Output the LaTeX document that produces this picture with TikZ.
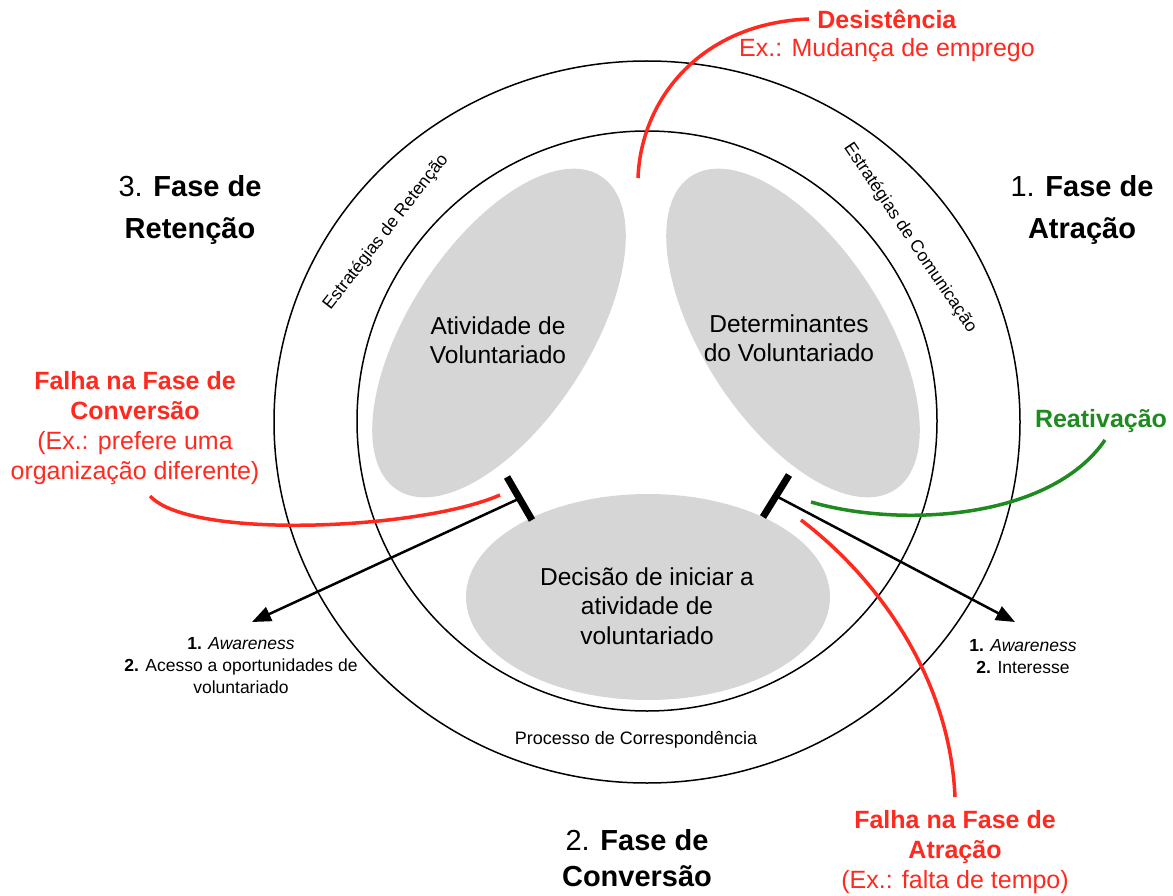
\documentclass[tikz,border=0pt]{standalone}
\usepackage{fontspec}
\setmainfont{Liberation Sans}
\usetikzlibrary{shapes.geometric,arrows.meta,calc}
\definecolor{blobgray}{HTML}{D6D6D6}
\definecolor{alertred}{HTML}{FF2A1F}
\definecolor{reactgreen}{HTML}{1F8A1F}
\begin{document}
\begin{tikzpicture}[x=1pt,y=-1pt,
  ring/.style={draw=black, line width=1.5pt},
  blob/.style={ellipse, fill=blobgray, draw=none, inner sep=0pt},
  blobtext/.style={align=center, inner sep=1pt, font=\fontsize{24.5}{29.5}\selectfont},
  phase/.style={align=center, inner sep=1pt, font=\fontsize{29}{42}\selectfont},
  small/.style={align=center, inner sep=1pt, font=\fontsize{17.5}{22}\selectfont},
  redtext/.style={align=center, inner sep=1pt, text=alertred, font=\fontsize{25}{30}\selectfont},
  greentext/.style={align=center, inner sep=1pt, text=reactgreen, font=\fontsize{25}{30}\selectfont},
  tbar/.style={line width=7pt, draw=black},
  arr/.style={line width=2.5pt, draw=black, -{Triangle[length=19pt,width=15pt]}},
  redline/.style={line width=3.5pt, draw=alertred},
  greenline/.style={line width=3.5pt, draw=reactgreen}
]
\useasboundingbox (0,0) rectangle (1173,896);

% rings
\draw[ring] (647,422) ellipse [x radius=373pt, y radius=361pt];
\draw[ring] (647,421) circle [radius=290pt];

% gray blobs
\node[blob, minimum width=374pt, minimum height=180pt, rotate=57] (act) at (499,333) {};
\node[blob, minimum width=374pt, minimum height=180pt, rotate=-57] (det) at (793,333) {};
\node[blob, minimum width=364pt, minimum height=206pt] (dec) at (648,597) {};

\node[blobtext] (acttxt) at (498,340) {Atividade de\\Voluntariado};
\node[blobtext] (dettxt) at (789,338) {Determinantes\\do Voluntariado};
\node[blobtext] (dectxt) at (647,606) {Decisão de iniciar a\\atividade de\\voluntariado};

% ring labels
\node[small, rotate=52] (retstrat) at (386,232) {Estratégias de Retenção};
\node[small, rotate=-56] (comstrat) at (910,238) {Estratégias de Comunicação};
\node[small, font=\fontsize{18}{22}\selectfont] (proc) at (636,740) {Processo de Correspondência};

% phase labels
\node[phase] (ph3) at (190,210) {3. \textbf{Fase de}\\\textbf{Retenção}};
\node[phase] (ph1) at (1082,210) {1. \textbf{Fase de}\\\textbf{Atração}};
\node[phase, font=\fontsize{29}{36}\selectfont] (ph2) at (637,858) {2. \textbf{Fase de}\\\textbf{Conversão}};

% lists
\node[small] (leftlist) at (241,666) {\textbf{1.} \textit{Awareness}\\\textbf{2.} Acesso a oportunidades de\\voluntariado};
\node[small] (rightlist) at (1023,657) {\textbf{1.} \textit{Awareness}\\\textbf{2.} Interesse};

% T-bars and arrows
\coordinate (lbarA) at (507,477);
\coordinate (lbarB) at (532,520);
\coordinate (ltip) at (252,622);
\coordinate (rbarA) at (789,475);
\coordinate (rbarB) at (763,517);
\coordinate (rtip) at (1015,622);
\draw[tbar] (lbarA) -- (lbarB);
\draw[tbar] (rbarA) -- (rbarB);
\draw[arr] ($(lbarA)!0.5!(lbarB)$) -- (ltip);
\draw[arr] ($(rbarA)!0.5!(rbarB)$) -- (rtip);

% red and green texts
\node[redtext, font=\fontsize{25}{28}\selectfont] (desist) at (887,36) {\textbf{Desistência}\\Ex.: Mudança de emprego};
\node[redtext] (convfail) at (135,428) {\textbf{Falha na Fase de}\\\textbf{Conversão}\\(Ex.: prefere uma\\organização diferente)};
\node[redtext] (attrfail) at (955,852) {\textbf{Falha na Fase de}\\\textbf{Atração}\\(Ex.: falta de tempo)};
\node[greentext] (react) at (1101,421) {\textbf{Reativação}};

% curves
\coordinate (dstart) at (638,178);
\coordinate (dend) at (809,19);
\draw[redline] (dstart) .. controls (641,98) and (702,23) .. (dend);

\coordinate (cstart) at (150,496);
\coordinate (cend) at (500,495);
\draw[redline] (cstart) .. controls (190,540) and (420,530) .. (cend);

\coordinate (gstart) at (811,502);
\coordinate (gend) at (1105,440);
\draw[greenline] (gstart) .. controls (900,528) and (1050,520) .. (gend);

\coordinate (astart) at (801,520);
\coordinate (aend) at (955,797);
\draw[redline] (astart) .. controls (880,580) and (950,680) .. (aend);
\end{tikzpicture}
\end{document}
